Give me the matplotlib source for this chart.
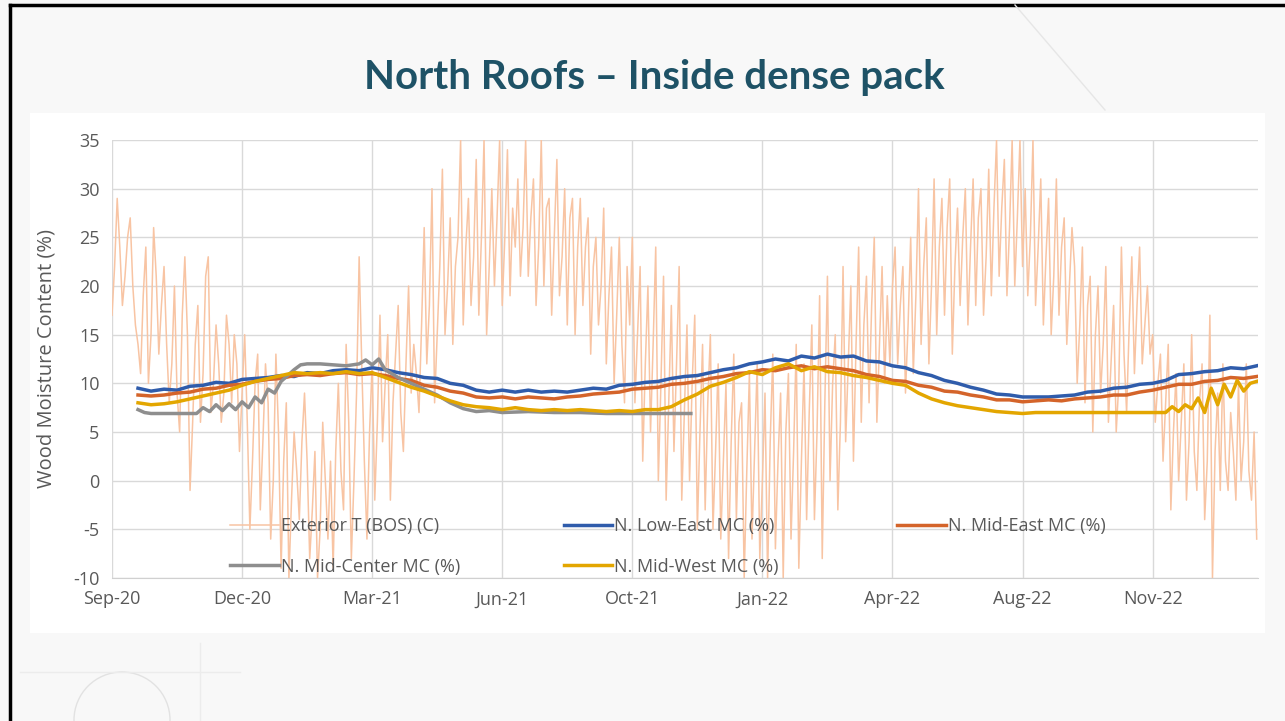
import numpy as np
import matplotlib
matplotlib.use("Agg")
import matplotlib.pyplot as plt
from matplotlib.patches import Ellipse, Rectangle
from matplotlib.lines import Line2D
from matplotlib.legend import Legend

plt.rcParams["axes.unicode_minus"] = False

# x axis: days since 2020-09-01, Excel date axis with a 100 day major unit
tick_days = [0, 100, 200, 300, 400, 500, 600, 700, 800]
tick_labels = ["Sep-20", "Dec-20", "Mar-21", "Jun-21", "Oct-21",
               "Jan-22", "Apr-22", "Aug-22", "Nov-22"]

# exterior temperature (C), every 2 days from day 0 (one row = 20 days)
temp_c = [
    17, 22, 29, 24, 18, 21, 25, 27, 20, 16,
    14, 11, 19, 24, 10, 15, 26, 21, 13, 18,
    22, 14, 8, 12, 20, 9, 5, 17, 23, 15,
    -1, 6, 14, 18, 6, 11, 21, 23, 7, 10,
    16, 12, 6, 9, 17, 14, 8, 15, 12, 3,
    9, 15, 6, -5, 2, 10, 13, -3, 4, 12,
    8, -6, 0, 13, 5, -9, 2, 8, -10, -2,
    5, 1, -4, 4, 9, 2, -8, -3, 3, -10,
    -5, 6, 0, -6, 2, -9, 3, 10, 1, -3,
    14, 6, -8, 0, 9, 23, 12, 2, -6, 5,
    12, -2, 6, 17, 4, 10, 15, -2, 8, 13,
    18, 7, 3, 12, 20, 9, 14, 11, 7, 16,
    26, 12, 18, 30, 8, 15, 22, 32, 15, 20,
    27, 14, 22, 25, 35, 16, 24, 29, 18, 23,
    33, 17, 25, 35, 15, 22, 30, 20, 27, 35,
    18, 25, 34, 19, 28, 24, 31, 21, 26, 35,
    21, 27, 31, 18, 24, 35, 20, 28, 29, 17,
    25, 33, 19, 23, 30, 16, 27, 29, 15, 24,
    29, 18, 24, 27, 13, 22, 25, 16, 20, 28,
    12, 19, 24, 10, 17, 25, 14, 8, 22, 16,
    25, 8, 15, 22, 2, 12, 20, 5, 14, 24,
    0, 10, 21, -2, 8, 18, 3, 12, 22, -2,
    7, 16, 0, 10, 17, -5, 5, 14, -3, 8,
    15, -5, 3, 12, -6, 2, 10, -8, 4, 13,
    -4, 6, 8, -10, 1, 11, -6, 3, 12, -8,
    0, 9, -10, 4, 13, -7, 2, 9, -10, 5,
    11, -6, 3, 14, -9, 2, 12, -4, 7, 16,
    -4, 5, 19, -8, 8, 21, 0, 10, 15, -3,
    6, 22, 4, 12, 20, 2, 14, 24, 6, 16,
    21, 8, 18, 25, 6, 14, 22, 10, 19, 12,
    20, 24, 12, 18, 22, 9, 16, 25, 11, 19,
    30, 14, 22, 27, 12, 20, 31, 15, 24, 29,
    17, 26, 31, 13, 22, 28, 18, 25, 30, 16,
    24, 31, 18, 27, 30, 17, 23, 32, 19, 28,
    35, 21, 28, 33, 19, 26, 35, 20, 27, 35,
    22, 30, 19, 25, 35, 18, 24, 31, 16, 23,
    29, 15, 21, 31, 17, 24, 27, 14, 20, 26,
    22, 10, 16, 24, 8, 18, 21, 5, 15, 20,
    9, 14, 22, 6, 12, 18, 5, 10, 24, 13,
    7, 16, 23, 11, 18, 24, 12, 16, 20, 13,
    15, 6, 10, 13, 2, 8, 14, -3, 5, 11,
    0, 6, 12, -2, 4, 15, 3, -1, 8, 12,
    -4, 2, 17, -10, 3, 9, -1, 12, 2, -1,
    7, 3, -2, 10, 0, 4, 12, 1, -2, 5,
    -6,
]
temp_days = np.arange(len(temp_c)) * 2

# moisture content (%), every 10 days from day 20 to 880
mc_days = np.arange(20, 881, 10)
low_east = [
    9.5, 9.2, 9.4, 9.3, 9.7, 9.8, 10.1, 10.0, 10.4, 10.5,
    10.6, 10.8, 10.7, 11.1, 11.0, 11.3, 11.4, 11.3, 11.6, 11.4,
    11.1, 10.9, 10.6, 10.5, 10.0, 9.8, 9.3, 9.1, 9.3, 9.1,
    9.3, 9.1, 9.2, 9.1, 9.3, 9.5, 9.4, 9.8, 9.9, 10.1,
    10.2, 10.5, 10.7, 10.8, 11.1, 11.4, 11.6, 12.0, 12.2, 12.5,
    12.3, 12.8, 12.6, 13.0, 12.7, 12.8, 12.3, 12.2, 11.8, 11.6,
    11.1, 10.8, 10.3, 10.0, 9.6, 9.3, 8.9, 8.8, 8.6, 8.6,
    8.6, 8.7, 8.8, 9.1, 9.2, 9.5, 9.6, 9.9, 10.0, 10.3,
    10.9, 11.0, 11.2, 11.3, 11.6, 11.5, 11.8,
]
mid_east = [
    8.8, 8.7, 8.8, 9.0, 9.1, 9.4, 9.5, 9.8, 9.9, 10.2,
    10.4, 10.5, 10.8, 10.9, 10.8, 11.0, 11.1, 10.9, 11.0, 10.8,
    10.5, 10.3, 9.8, 9.6, 9.2, 9.0, 8.6, 8.5, 8.6, 8.4,
    8.6, 8.5, 8.4, 8.6, 8.7, 8.9, 9.0, 9.1, 9.4, 9.5,
    9.6, 9.9, 10.0, 10.2, 10.5, 10.7, 11.0, 11.1, 11.4, 11.3,
    11.6, 11.8, 11.5, 11.7, 11.5, 11.3, 10.9, 10.7, 10.3, 10.2,
    9.8, 9.6, 9.2, 9.1, 8.8, 8.6, 8.3, 8.3, 8.1, 8.2,
    8.3, 8.2, 8.4, 8.5, 8.6, 8.8, 8.8, 9.1, 9.3, 9.6,
    9.9, 9.9, 10.2, 10.3, 10.6, 10.5, 10.7,
]

mid_center_days = [20, 25, 30, 40, 50, 60, 65, 70, 75, 80, 85, 90, 95, 100,
                   105, 110, 115, 120, 125, 130, 135, 140, 145, 150, 160,
                   170, 180, 190, 195, 200, 205, 210, 220, 230, 240, 250,
                   260, 270, 280, 290, 300, 320, 340, 360, 380, 400, 420, 445]
mid_center = [7.3, 7.0, 6.9, 6.9, 6.9, 6.9, 6.9, 7.5, 7.1, 7.8, 7.2, 7.9, 7.3,
              8.1, 7.5, 8.6, 8.0, 9.4, 9.0, 10.2, 10.8, 11.4, 11.9, 12.0, 12.0,
              11.9, 11.8, 12.0, 12.4, 11.9, 12.5, 11.4, 10.6, 10.0, 9.4, 8.8,
              8.0, 7.4, 7.1, 7.2, 7.0, 7.1, 7.0, 7.0, 6.9, 6.9, 6.9, 6.9]

mid_west_days = list(range(20, 811, 10)) + [815, 820, 825, 830, 835, 840, 845,
                                             850, 855, 860, 865, 870, 875, 880]
mid_west = [
    8.0, 7.8, 7.9, 8.1, 8.4, 8.7, 9.0, 9.3, 9.8, 10.2,
    10.5, 10.8, 11.1, 11.0, 11.1, 11.0, 11.2, 11.0, 11.1, 10.6,
    10.1, 9.6, 9.2, 8.7, 8.2, 7.8, 7.6, 7.5, 7.3, 7.5,
    7.3, 7.2, 7.3, 7.2, 7.3, 7.2, 7.1, 7.2, 7.1, 7.3,
    7.3, 7.6, 8.3, 8.9, 9.7, 10.1, 10.6, 11.2, 10.9, 11.6,
    12.0, 11.3, 11.7, 11.2, 11.1, 10.8, 10.6, 10.3, 10.0, 9.8,
    9.0, 8.4, 8.0, 7.7, 7.5, 7.3, 7.1, 7.0, 6.9, 7.0,
    7.0, 7.0, 7.0, 7.0, 7.0, 7.0, 7.0, 7.0, 7.0, 7.0,
    7.6, 7.1, 7.8, 7.4, 8.5, 7.0, 9.5, 7.8, 9.9, 8.6, 10.3, 9.2, 10.0, 10.2,
]

W, H = 1285, 721
fig = plt.figure(figsize=(W / 100, H / 100), dpi=100)
fig.patch.set_facecolor("#f8f8f8")

# slide decorations
fig.add_artist(Line2D([10 / W, 10 / W], [0, 1 - 5 / H], color="black", lw=2.5))
fig.add_artist(Line2D([10 / W, 1], [1 - 5 / H, 1 - 5 / H], color="black", lw=2.5))
fig.add_artist(Line2D([1015 / W, 1105 / W], [1 - 5 / H, 1 - 110 / H],
                      color="#e6e6e6", lw=1))
fig.add_artist(Ellipse((122 / W, 1 - 720 / H), 96 / W, 96 / H,
                       fill=False, edgecolor="#e2e2e2", lw=1, zorder=-10))
fig.add_artist(Line2D([20 / W, 240 / W], [1 - 672 / H, 1 - 672 / H],
                      color="#ececec", lw=1, zorder=-10))
fig.add_artist(Line2D([200 / W, 200 / W], [0, 1 - 643 / H],
                      color="#ececec", lw=1, zorder=-10))
fig.add_artist(Rectangle((30 / W, 1 - 633 / H), 1235 / W, 520 / H,
                         facecolor="white", edgecolor="none", zorder=-5))

fig.text(654 / W, 1 - 78 / H, "North Roofs \u2013 Inside dense pack",
         ha="center", va="center", fontsize=29, fontweight="bold",
         family="Lato", color="#1e5266")

ax = fig.add_axes([112 / W, 1 - 578 / H, 1146 / W, 438 / H])
ax.set_facecolor("white")

l_t, = ax.plot(temp_days, temp_c, color="#f8c4a3", lw=1.1)
l_le, = ax.plot(mc_days, low_east, color="#2f5cab", lw=2.5)
l_me, = ax.plot(mc_days, mid_east, color="#d4642a", lw=2.5)
l_mc, = ax.plot(mid_center_days, mid_center, color="#8e8e8e", lw=2.5)
l_mw, = ax.plot(mid_west_days, mid_west, color="#e3a600", lw=2.5)

ax.set_xlim(0, 881)
ax.set_ylim(-10, 35)
ax.set_xticks(tick_days)
ax.set_xticklabels(tick_labels)
ax.set_yticks(range(-10, 36, 5))
ax.grid(True, color="#d9d9d9", lw=1)
ax.set_axisbelow(True)
for s in ["top", "right", "left"]:
    ax.spines[s].set_visible(False)
ax.spines["bottom"].set_color("#d0d0d0")
ax.tick_params(length=0, labelsize=13, labelcolor="#595959", pad=9)
for t in ax.get_xticklabels() + ax.get_yticklabels():
    t.set_family("Open Sans")
ax.set_ylabel("Wood Moisture Content (%)", fontsize=14.5, color="#595959",
              family="Open Sans", labelpad=12)

# three legend columns at an even pitch, as in the Excel chart
cols = [([l_t, l_mc], ["Exterior T (BOS) (C)", "N. Mid-Center MC (%)"], 0.103),
        ([l_le, l_mw], ["N. Low-East MC (%)", "N. Mid-West MC (%)"], 0.394),
        ([l_me], ["N. Mid-East MC (%)"], 0.685)]
for handles, labels, x0 in cols:
    leg = Legend(ax, handles, labels, loc="upper left", bbox_to_anchor=(x0, 0.139),
                 frameon=False, borderpad=0, borderaxespad=0,
                 handlelength=2.7, handletextpad=0.1, labelspacing=1.25,
                 prop={"family": "Open Sans", "size": 13})
    for t in leg.get_texts():
        t.set_color("#595959")
    ax.add_artist(leg)

fig.savefig("out.png", dpi=100, facecolor=fig.get_facecolor())
